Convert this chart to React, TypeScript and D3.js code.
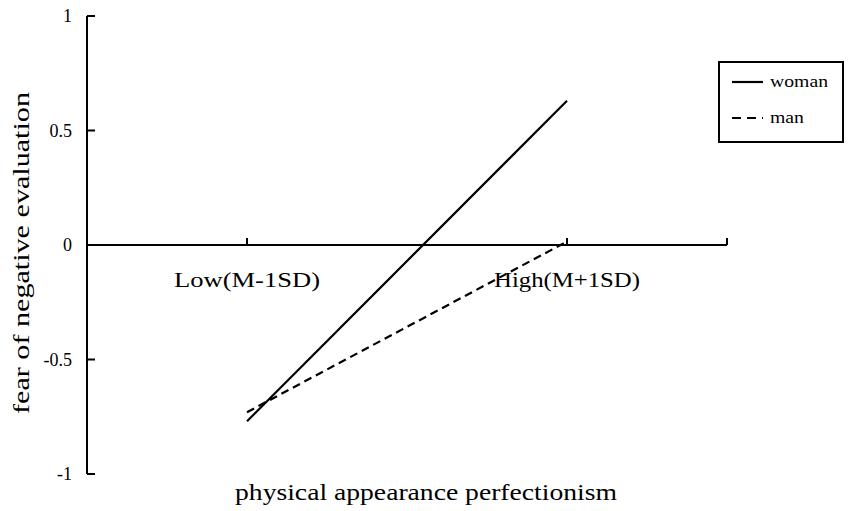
import React from "react";
import { scaleLinear, line } from "d3";

// DATA
const categories = ["Low(M-1SD)", "High(M+1SD)"];
const womanValues = [-0.77, 0.63];
const manValues = [-0.73, 0.015];
const yTicks = [-1, -0.5, 0, 0.5, 1];
const seriesNames = ["woman", "man"];

const width = 851;
const height = 511;
const font = "'Liberation Serif', 'Times New Roman', serif";

const App = () => {
  // SCALES
  const xScale = scaleLinear().domain([0, 4]).range([87, 727]);
  const yScale = scaleLinear().domain([-1, 1]).range([474, 16]);
  const catPos = (i: number) => xScale(i * 2 + 1);

  const lineGen = line<number>()
    .x((d, i) => catPos(i))
    .y(d => yScale(d));

  const series = [
    { name: seriesNames[0], values: womanValues, dash: "none", len: 58 },
    { name: seriesNames[1], values: manValues, dash: "8,5", len: 34 },
  ];

  const x0 = xScale(0);
  const y0 = yScale(0);

  return (
    <svg width={width} height={height} style={{ position: "absolute", left: 0, top: 0 }}>
      <rect width={width} height={height} fill="#fff" />

      {/* y axis */}
      <line x1={x0} x2={x0} y1={yScale(1)} y2={yScale(-1)} stroke="#000" strokeWidth={2} />
      {yTicks.map(t => (
        <g key={t}>
          <line x1={x0} x2={x0 + 8} y1={yScale(t)} y2={yScale(t)} stroke="#000" strokeWidth={2} />
          <text x={x0 - 15} y={yScale(t)} dy="0.35em" textAnchor="end"
            fontFamily={font} fontSize={18}>{t}</text>
        </g>
      ))}

      {/* x axis */}
      <line x1={x0} x2={xScale(4)} y1={y0} y2={y0} stroke="#000" strokeWidth={2} />
      {[1, 3, 4].map(t => (
        <line key={t} x1={xScale(t)} x2={xScale(t)} y1={y0} y2={y0 - 7} stroke="#000" strokeWidth={2} />
      ))}
      {categories.map((c, i) => (
        <text key={c} x={catPos(i)} y={y0 + 42} textAnchor="middle"
          fontFamily={font} fontSize={22} textLength={146} lengthAdjust="spacingAndGlyphs">{c}</text>
      ))}

      {/* lines */}
      {series.map(s => (
        <path key={s.name} d={lineGen(s.values) || ""} fill="none" stroke="#000"
          strokeWidth={2.2} strokeDasharray={s.dash} />
      ))}

      {/* axis titles */}
      <text x={426} y={500} textAnchor="middle" fontFamily={font} fontSize={24}
        textLength={382} lengthAdjust="spacingAndGlyphs">
        physical appearance perfectionism
      </text>
      <text transform={`translate(29, 253) rotate(-90)`} textAnchor="middle"
        fontFamily={font} fontSize={24} textLength={322} lengthAdjust="spacingAndGlyphs">
        fear of negative evaluation
      </text>

      {/* legend */}
      <rect x={719} y={62} width={124} height={80} fill="#fff" stroke="#000" strokeWidth={2} />
      {series.map((s, i) => (
        <g key={s.name} transform={`translate(0, ${82 + i * 36})`}>
          <line x1={732} x2={763} y1={0} y2={0} stroke="#000" strokeWidth={2.2}
            strokeDasharray={s.dash === "none" ? "none" : "9,6"} />
          <text x={770} y={0} dy="0.3em" fontFamily={font} fontSize={17}
            textLength={s.len} lengthAdjust="spacingAndGlyphs">{s.name}</text>
        </g>
      ))}
    </svg>
  );
};

export default App;
